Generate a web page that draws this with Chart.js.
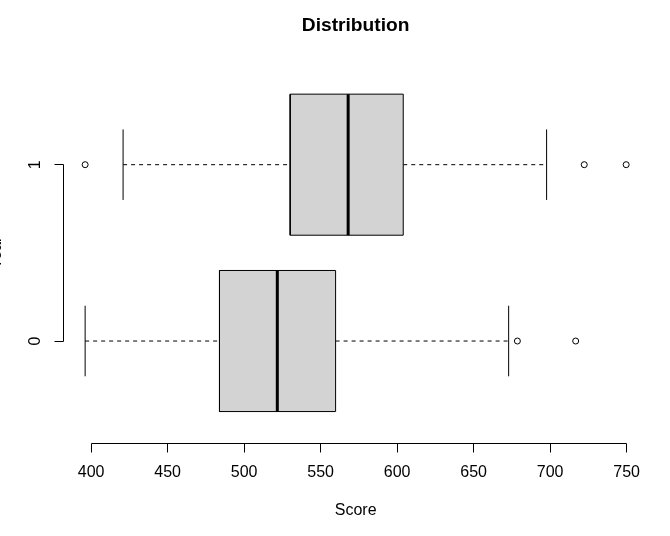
<!DOCTYPE html>
<html>
<head>
<meta charset="utf-8">
<script src="https://cdn.jsdelivr.net/npm/chart.js@4.4.1/dist/chart.umd.min.js"></script>
<style>
  html, body { margin:0; padding:0; background:#fff; }
  #wrap { width:670px; height:536px; position:relative; }
</style>
</head>
<body>
<div id="wrap"><canvas id="boxChart"></canvas></div>
<script>
// groups, bottom to top
const groups = ['0', '1'];
const q1Vals = [483.9, 530.1];
const medianVals = [521.7, 568.0];
const q3Vals = [559.8, 604.0];
const whiskerLow = [396.1, 420.9];
const whiskerHigh = [672.9, 697.7];
const outlierVals = [
  [678.6, 716.7],
  [396.1, 722.3, 749.7]
];
const xTicks = [400, 450, 500, 550, 600, 650, 700, 750];
const chartTitle = 'Distribution';

const FONT = '"Liberation Sans", Arial, sans-serif';
const BOX_HALF = 0.4;
const CAP_HALF = 0.2;

// ==========================
// DATASETS
// ==========================
function seg(x1, y1, x2, y2, extra){
  return Object.assign({
    data: [{x:x1, y:y1}, {x:x2, y:y2}],
    showLine: true,
    borderColor: '#000',
    borderWidth: 1,
    pointRadius: 0,
    fill: false,
    tension: 0
  }, extra || {});
}

const datasets = [];
groups.forEach((g, i) => {
  const pos = i + 1;
  // box
  datasets.push({
    data: [
      {x:q1Vals[i], y:pos - BOX_HALF}, {x:q3Vals[i], y:pos - BOX_HALF},
      {x:q3Vals[i], y:pos + BOX_HALF}, {x:q1Vals[i], y:pos + BOX_HALF},
      {x:q1Vals[i], y:pos - BOX_HALF}
    ],
    showLine: true,
    borderColor: '#000',
    borderWidth: 1,
    backgroundColor: '#d3d3d3',
    fill: 'shape',
    pointRadius: 0,
    tension: 0,
    order: 2
  });
  // median
  datasets.push(seg(medianVals[i], pos - BOX_HALF, medianVals[i], pos + BOX_HALF, { borderWidth: 3, order: 1 }));
  // whiskers
  datasets.push(seg(whiskerLow[i], pos, q1Vals[i], pos, { borderDash: [4, 4], order: 3 }));
  datasets.push(seg(q3Vals[i], pos, whiskerHigh[i], pos, { borderDash: [4, 4], order: 3 }));
  // caps
  datasets.push(seg(whiskerLow[i], pos - CAP_HALF, whiskerLow[i], pos + CAP_HALF, { order: 3 }));
  datasets.push(seg(whiskerHigh[i], pos - CAP_HALF, whiskerHigh[i], pos + CAP_HALF, { order: 3 }));
  // outliers
  datasets.push({
    data: outlierVals[i].map(v => ({x:v, y:pos})),
    showLine: false,
    pointStyle: 'circle',
    pointRadius: 3,
    borderColor: '#000',
    borderWidth: 1,
    backgroundColor: 'rgba(0,0,0,0)',
    order: 0
  });
});

// ==========================
// R STYLE AXES + TITLE
// ==========================
const rAxes = {
  id: 'rAxes',
  afterDraw(chart){
    const {ctx, chartArea, scales} = chart;
    const xs = scales.x, ys = scales.y;
    ctx.save();
    ctx.strokeStyle = '#000';
    ctx.lineWidth = 1;
    ctx.beginPath();
    const yb = Math.floor(chartArea.bottom) + 0.5;
    ctx.moveTo(Math.floor(xs.getPixelForValue(xTicks[0])) + 0.5, yb);
    ctx.lineTo(Math.floor(xs.getPixelForValue(xTicks[xTicks.length - 1])) + 0.5, yb);
    xTicks.forEach(v => {
      const px = Math.floor(xs.getPixelForValue(v)) + 0.5;
      ctx.moveTo(px, yb);
      ctx.lineTo(px, yb + 9);
    });
    const xl = Math.floor(chartArea.left) + 0.5;
    ctx.moveTo(xl, Math.floor(ys.getPixelForValue(1)) + 0.5);
    ctx.lineTo(xl, Math.floor(ys.getPixelForValue(groups.length)) + 0.5);
    groups.forEach((g, i) => {
      const py = Math.floor(ys.getPixelForValue(i + 1)) + 0.5;
      ctx.moveTo(xl, py);
      ctx.lineTo(xl - 9, py);
    });
    ctx.stroke();

    ctx.fillStyle = '#000';
    ctx.font = '16px ' + FONT;
    ctx.textAlign = 'center';
    ctx.textBaseline = 'middle';
    groups.forEach((g, i) => {
      ctx.save();
      ctx.translate(35.3, ys.getPixelForValue(i + 1));
      ctx.rotate(-Math.PI / 2);
      ctx.fillText(g, 0, 0);
      ctx.restore();
    });

    // title centred over the plot region, like R
    ctx.font = 'bold 19.2px ' + FONT;
    ctx.fillText(chartTitle, (chartArea.left + chartArea.right) / 2, 25.4);
    ctx.restore();
  }
};

new Chart(document.getElementById('boxChart'), {
  type: 'scatter',
  data: { datasets },
  options: {
    responsive: true,
    maintainAspectRatio: false,
    animation: false,
    events: [],
    layout: { padding: { left: 0, right: 22.2, top: 62.4, bottom: 0 } },
    plugins: {
      legend: { display: false },
      tooltip: { enabled: false },
      title: { display: false }
    },
    scales: {
      x: {
        type: 'linear',
        min: 381.96,
        max: 763.84,
        afterBuildTicks: s => { s.ticks = xTicks.map(v => ({ value: v })); },
        afterFit: s => { s.height = 92.7; },
        grid: { display: false, drawTicks: false },
        border: { display: false },
        ticks: {
          color: '#000',
          padding: 20,
          maxRotation: 0,
          font: { family: FONT, size: 16, lineHeight: 1.2 },
          callback: v => String(v)
        },
        title: {
          display: true,
          text: 'Score',
          color: '#000',
          font: { family: FONT, size: 16, lineHeight: 1.2 },
          padding: { top: 0, bottom: 15.4 }
        }
      },
      y: {
        type: 'linear',
        min: 0.42,
        max: 2.58,
        afterFit: s => { s.width = 63.5; },
        grid: { display: false, drawTicks: false },
        border: { display: false },
        ticks: { display: false },
        title: {
          display: true,
          text: 'Year',
          color: '#000',
          font: { family: FONT, size: 16, lineHeight: 1.2 },
          padding: { top: -13.1, bottom: 0 }
        }
      }
    }
  },
  plugins: [rAxes]
});
</script>
</body>
</html>
